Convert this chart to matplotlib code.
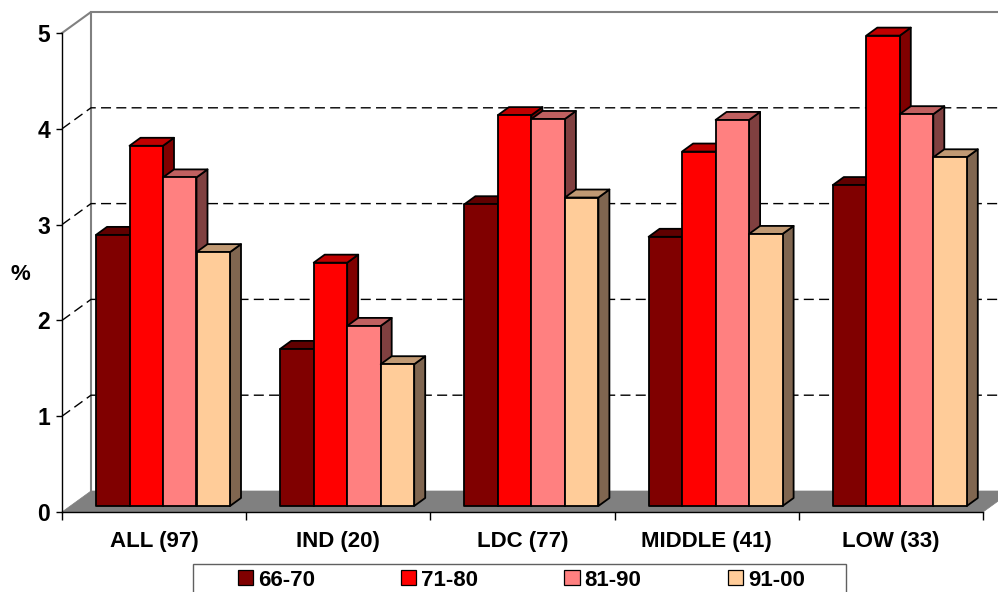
import matplotlib
matplotlib.use('Agg')
import matplotlib.pyplot as plt
from matplotlib.patches import Polygon, Patch, Rectangle

plt.rcParams['font.family'] = ['Liberation Sans', 'DejaVu Sans']
plt.rcParams['font.weight'] = 'bold'
plt.rcParams['font.size'] = 16

categories = ['ALL (97)', 'IND (20)', 'LDC (77)', 'MIDDLE (41)', 'LOW (33)']
series_names = ['66-70', '71-80', '81-90', '91-00']
v_66_70 = [2.83, 1.64, 3.15, 2.81, 3.35]
v_71_80 = [3.76, 2.54, 4.08, 3.70, 4.91]
v_81_90 = [3.43, 1.88, 4.04, 4.03, 4.09]
v_91_00 = [2.65, 1.48, 3.22, 2.84, 3.64]
series = [v_66_70, v_71_80, v_81_90, v_91_00]

front_colors = ['#800000', '#ff0000', '#ff8080', '#ffcc99']
top_colors = ['#600000', '#c00000', '#c06060', '#c09973']
side_colors = ['#400000', '#800000', '#804040', '#806650']

# one x unit is a category, one y unit is a percent
PX_X = 184.2
PX_Y = 95.8
wall_dx, wall_dy = 29 / PX_X, 21 / PX_Y
base_dx, base_dy = 8.3 / PX_X, 6 / PX_Y
bar_dx, bar_dy = 11 / PX_X, 8 / PX_Y
bar_w = 33.5 / PX_X
group_gap = 25.7 / PX_X
y_max = 5
n_cat = len(categories)

fig = plt.figure(figsize=(9.98, 5.92), dpi=100)
ax = fig.add_axes([0, 0, 1, 1])
ax.set_xlim(-62 / PX_X, (998 - 62) / PX_X)
ax.set_ylim(-80 / PX_Y, 512 / PX_Y)
ax.patch.set_visible(False)

# floor and back wall
ax.add_patch(Polygon([(0, 0), (wall_dx, wall_dy), (n_cat + wall_dx, wall_dy), (n_cat, 0)],
                     closed=True, facecolor='#808080', edgecolor='#808080', lw=0.5, zorder=1))
ax.plot([0, wall_dx, wall_dx], [y_max, y_max + wall_dy, wall_dy], color='#808080', lw=1.5, zorder=1)
ax.plot([wall_dx, n_cat + wall_dx], [y_max + wall_dy] * 2, color='#808080', lw=1.5, zorder=1)

# gridlines along the wall
for v in range(1, y_max):
    ax.plot([0, wall_dx, n_cat + wall_dx], [v, v + wall_dy, v + wall_dy], color='black', lw=1,
            dashes=(7.2, 3.8), zorder=1)

# bars, left to right so each one covers the side of the previous
z = 2
for c in range(n_cat):
    for s, values in enumerate(series):
        v = values[c]
        x0 = c + base_dx + group_gap + s * bar_w
        x1 = x0 + bar_w
        y0 = base_dy
        y1 = base_dy + v
        ax.add_patch(Polygon([(x1, y0), (x1 + bar_dx, y0 + bar_dy), (x1 + bar_dx, y1 + bar_dy), (x1, y1)],
                             facecolor=side_colors[s], edgecolor='black', lw=1.3, joinstyle='round', zorder=z))
        ax.add_patch(Polygon([(x0, y1), (x0 + bar_dx, y1 + bar_dy), (x1 + bar_dx, y1 + bar_dy), (x1, y1)],
                             facecolor=top_colors[s], edgecolor='black', lw=1.3, joinstyle='round', zorder=z))
        ax.add_patch(Polygon([(x0, y0), (x1, y0), (x1, y1), (x0, y1)],
                             facecolor=front_colors[s], edgecolor='black', lw=1.3, joinstyle='round', zorder=z))
        z += 1

# axes
for side in ['top', 'right']:
    ax.spines[side].set_visible(False)
ax.spines['left'].set_position(('data', 0))
ax.spines['bottom'].set_position(('data', 0))
ax.spines['left'].set_bounds(0, y_max)
ax.spines['bottom'].set_bounds(0, n_cat)
ax.spines['left'].set_linewidth(1)
ax.spines['bottom'].set_linewidth(1)
ax.spines['left'].set_zorder(50)
ax.spines['bottom'].set_zorder(50)

ax.set_yticks(range(y_max + 1))
ax.tick_params(axis='y', length=4, width=1, pad=4.5, labelsize=16.5)
ax.set_xticks(range(n_cat + 1))
ax.set_xticklabels([])
ax.tick_params(axis='x', which='major', length=6, width=1)
ax.set_xticks([c + 0.5 for c in range(n_cat)], minor=True)
ax.set_xticklabels(categories, minor=True, fontsize=16)
ax.tick_params(axis='x', which='minor', length=0, pad=13.5)

ax.text(-42 / PX_X, 237 / PX_Y, '%', ha='center', va='center', fontsize=16)

# legend frame runs past the bottom edge of the picture
ax.add_patch(Rectangle((131 / PX_X, -90 / PX_Y), 653 / PX_X, 38 / PX_Y, facecolor='white',
                       edgecolor='#606060', lw=1, zorder=55))
handles = [Patch(facecolor=front_colors[i], edgecolor='black', lw=0.9) for i in range(4)]
leg = ax.legend(handles, series_names, loc='upper left', bbox_to_anchor=(238 / 998, (592 - 569.5) / 592),
                bbox_transform=fig.transFigure, ncols=4, frameon=False,
                fontsize=16, handlelength=0.68, handleheight=0.68, handletextpad=0.23, columnspacing=3.87,
                borderaxespad=0, borderpad=0)
leg.set_zorder(60)

fig.savefig('out.png', dpi=100)
